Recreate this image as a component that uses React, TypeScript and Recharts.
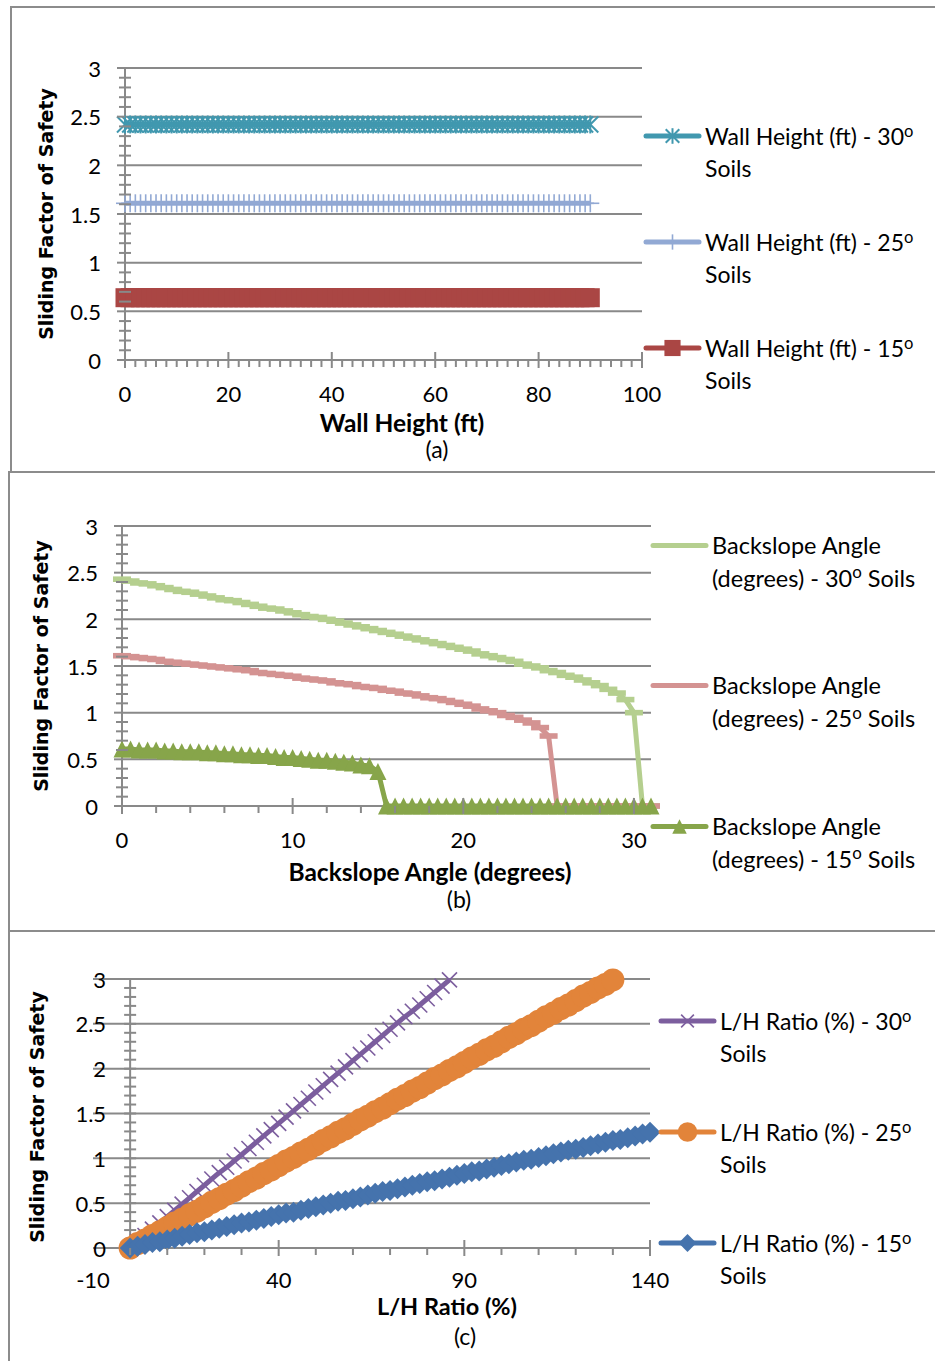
import React from "react";
import { LineChart, Line, XAxis, YAxis, ReferenceLine, ReferenceDot, Legend } from "recharts";

const FONT = "Lato, 'Open Sans', sans-serif";
const TITLE_FONT = "'DejaVu Sans', Verdana, sans-serif";
const AXIS_GRAY = "#898989";
const W = 935;

// shared y axis (Sliding Factor of Safety)
const yTicks = [
  0, 0.1, 0.2, 0.3, 0.4, 0.5, 0.6, 0.7, 0.8, 0.9, 1, 1.1, 1.2, 1.3, 1.4, 1.5,
  1.6, 1.7, 1.8, 1.9, 2, 2.1, 2.2, 2.3, 2.4, 2.5, 2.6, 2.7, 2.8, 2.9, 3,
];
const yMajor = [0, 0.5, 1, 1.5, 2, 2.5, 3];
const yGrid = [0.5, 1, 1.5, 2, 2.5, 3];

// (a) wall height
const wallHeight = [
  0, 1, 2, 3, 4, 5, 6, 7, 8, 9, 10, 11, 12, 13, 14, 15, 16, 17, 18, 19,
  20, 21, 22, 23, 24, 25, 26, 27, 28, 29, 30, 31, 32, 33, 34, 35, 36, 37, 38, 39,
  40, 41, 42, 43, 44, 45, 46, 47, 48, 49, 50, 51, 52, 53, 54, 55, 56, 57, 58, 59,
  60, 61, 62, 63, 64, 65, 66, 67, 68, 69, 70, 71, 72, 73, 74, 75, 76, 77, 78, 79,
  80, 81, 82, 83, 84, 85, 86, 87, 88, 89, 90,
];
const fsWall30 = [
  2.42, 2.42, 2.42, 2.42, 2.42, 2.42, 2.42, 2.42, 2.42, 2.42,
  2.42, 2.42, 2.42, 2.42, 2.42, 2.42, 2.42, 2.42, 2.42, 2.42,
  2.42, 2.42, 2.42, 2.42, 2.42, 2.42, 2.42, 2.42, 2.42, 2.42,
  2.42, 2.42, 2.42, 2.42, 2.42, 2.42, 2.42, 2.42, 2.42, 2.42,
  2.42, 2.42, 2.42, 2.42, 2.42, 2.42, 2.42, 2.42, 2.42, 2.42,
  2.42, 2.42, 2.42, 2.42, 2.42, 2.42, 2.42, 2.42, 2.42, 2.42,
  2.42, 2.42, 2.42, 2.42, 2.42, 2.42, 2.42, 2.42, 2.42, 2.42,
  2.42, 2.42, 2.42, 2.42, 2.42, 2.42, 2.42, 2.42, 2.42, 2.42,
  2.42, 2.42, 2.42, 2.42, 2.42, 2.42, 2.42, 2.42, 2.42, 2.42,
  2.42,
];
const fsWall25 = [
  1.61, 1.61, 1.61, 1.61, 1.61, 1.61, 1.61, 1.61, 1.61, 1.61,
  1.61, 1.61, 1.61, 1.61, 1.61, 1.61, 1.61, 1.61, 1.61, 1.61,
  1.61, 1.61, 1.61, 1.61, 1.61, 1.61, 1.61, 1.61, 1.61, 1.61,
  1.61, 1.61, 1.61, 1.61, 1.61, 1.61, 1.61, 1.61, 1.61, 1.61,
  1.61, 1.61, 1.61, 1.61, 1.61, 1.61, 1.61, 1.61, 1.61, 1.61,
  1.61, 1.61, 1.61, 1.61, 1.61, 1.61, 1.61, 1.61, 1.61, 1.61,
  1.61, 1.61, 1.61, 1.61, 1.61, 1.61, 1.61, 1.61, 1.61, 1.61,
  1.61, 1.61, 1.61, 1.61, 1.61, 1.61, 1.61, 1.61, 1.61, 1.61,
  1.61, 1.61, 1.61, 1.61, 1.61, 1.61, 1.61, 1.61, 1.61, 1.61,
  1.61,
];
const fsWall15 = [
  0.64, 0.64, 0.64, 0.64, 0.64, 0.64, 0.64, 0.64, 0.64, 0.64,
  0.64, 0.64, 0.64, 0.64, 0.64, 0.64, 0.64, 0.64, 0.64, 0.64,
  0.64, 0.64, 0.64, 0.64, 0.64, 0.64, 0.64, 0.64, 0.64, 0.64,
  0.64, 0.64, 0.64, 0.64, 0.64, 0.64, 0.64, 0.64, 0.64, 0.64,
  0.64, 0.64, 0.64, 0.64, 0.64, 0.64, 0.64, 0.64, 0.64, 0.64,
  0.64, 0.64, 0.64, 0.64, 0.64, 0.64, 0.64, 0.64, 0.64, 0.64,
  0.64, 0.64, 0.64, 0.64, 0.64, 0.64, 0.64, 0.64, 0.64, 0.64,
  0.64, 0.64, 0.64, 0.64, 0.64, 0.64, 0.64, 0.64, 0.64, 0.64,
  0.64, 0.64, 0.64, 0.64, 0.64, 0.64, 0.64, 0.64, 0.64, 0.64,
  0.64,
];
const xTicksA = [
  0, 2, 4, 6, 8, 10, 12, 14, 16, 18, 20, 22, 24, 26, 28, 30, 32, 34, 36, 38, 40,
  42, 44, 46, 48, 50, 52, 54, 56, 58, 60, 62, 64, 66, 68, 70, 72, 74, 76, 78, 80,
  82, 84, 86, 88, 90, 92, 94, 96, 98, 100,
];
const xMajorA = [0, 20, 40, 60, 80, 100];

// (b) backslope angle
const backslope = [
  0, 0.5, 1, 1.5, 2, 2.5, 3, 3.5, 4, 4.5,
  5, 5.5, 6, 6.5, 7, 7.5, 8, 8.5, 9, 9.5,
  10, 10.5, 11, 11.5, 12, 12.5, 13, 13.5, 14, 14.5,
  15, 15.5, 16, 16.5, 17, 17.5, 18, 18.5, 19, 19.5,
  20, 20.5, 21, 21.5, 22, 22.5, 23, 23.5, 24, 24.5,
  25, 25.5, 26, 26.5, 27, 27.5, 28, 28.5, 29, 29.5,
  30, 30.5, 31,
];
const fsBack30 = [
  2.43, 2.41, 2.39, 2.38, 2.36, 2.34, 2.32, 2.3, 2.29, 2.27,
  2.25, 2.23, 2.21, 2.2, 2.18, 2.16, 2.14, 2.12, 2.11, 2.09,
  2.07, 2.05, 2.03, 2.02, 2.0, 1.98, 1.96, 1.94, 1.92, 1.9,
  1.88, 1.86, 1.84, 1.82, 1.8, 1.78, 1.76, 1.74, 1.72, 1.7,
  1.68, 1.66, 1.63, 1.61, 1.59, 1.57, 1.55, 1.52, 1.5, 1.48,
  1.45, 1.43, 1.4, 1.38, 1.35, 1.32, 1.29, 1.25, 1.21, 1.14,
  1.0, 0, 0,
];
const fsBack25 = [
  1.61, 1.6, 1.59, 1.58, 1.57, 1.55, 1.54, 1.53, 1.52, 1.51,
  1.5, 1.49, 1.48, 1.47, 1.46, 1.45, 1.43, 1.42, 1.41, 1.4,
  1.39, 1.37, 1.36, 1.35, 1.34, 1.32, 1.31, 1.3, 1.28, 1.27,
  1.26, 1.24, 1.23, 1.21, 1.2, 1.18, 1.16, 1.15, 1.13, 1.11,
  1.09, 1.07, 1.04, 1.02, 1.0, 0.97, 0.95, 0.92, 0.89, 0.84,
  0.75, 0, 0, 0, 0, 0, 0, 0, 0, 0,
  0, 0, 0,
];
const fsBack15 = [
  0.61, 0.61, 0.6, 0.6, 0.6, 0.59, 0.59, 0.58, 0.58, 0.58,
  0.57, 0.57, 0.56, 0.56, 0.55, 0.55, 0.54, 0.54, 0.53, 0.52,
  0.52, 0.51, 0.5, 0.49, 0.49, 0.48, 0.47, 0.46, 0.44, 0.43,
  0.37, 0, 0, 0, 0, 0, 0, 0, 0, 0,
  0, 0, 0, 0, 0, 0, 0, 0, 0, 0,
  0, 0, 0, 0, 0, 0, 0, 0, 0, 0,
  0, 0, 0,
];
const xTicksB = [0, 2, 4, 6, 8, 10, 12, 14, 16, 18, 20, 22, 24, 26, 28, 30];
const xMajorB = [0, 10, 20, 30];

// (c) L/H ratio
const lhRatio = [
  0, 2, 4, 6, 8, 10, 12, 14, 16, 18,
  20, 22, 24, 26, 28, 30, 32, 34, 36, 38,
  40, 42, 44, 46, 48, 50, 52, 54, 56, 58,
  60, 62, 64, 66, 68, 70, 72, 74, 76, 78,
  80, 82, 84, 86, 88, 90, 92, 94, 96, 98,
  100, 102, 104, 106, 108, 110, 112, 114, 116, 118,
  120, 122, 124, 126, 128, 130, 132, 134, 136, 138,
  140,
];
const fsLH30 = [
  0, 0.07, 0.14, 0.21, 0.28, 0.35, 0.42, 0.49, 0.56, 0.63,
  0.7, 0.77, 0.84, 0.9, 0.97, 1.04, 1.11, 1.18, 1.25, 1.32,
  1.39, 1.46, 1.53, 1.6, 1.67, 1.74, 1.81, 1.88, 1.95, 2.02,
  2.09, 2.16, 2.23, 2.3, 2.37, 2.44, 2.51, 2.58, 2.64, 2.71,
  2.78, 2.85, 2.92, 2.99,
];
const fsLH25 = [
  0, 0.05, 0.09, 0.14, 0.18, 0.23, 0.28, 0.32, 0.37, 0.41,
  0.46, 0.51, 0.55, 0.6, 0.64, 0.69, 0.74, 0.78, 0.83, 0.87,
  0.92, 0.97, 1.01, 1.06, 1.1, 1.15, 1.2, 1.24, 1.29, 1.33,
  1.38, 1.43, 1.47, 1.52, 1.56, 1.61, 1.66, 1.7, 1.75, 1.79,
  1.84, 1.89, 1.93, 1.98, 2.02, 2.07, 2.12, 2.16, 2.21, 2.25,
  2.3, 2.35, 2.39, 2.44, 2.48, 2.53, 2.58, 2.62, 2.67, 2.71,
  2.76, 2.81, 2.85, 2.9, 2.94, 2.99,
];
const fsLH15 = [
  0, 0.02, 0.04, 0.06, 0.07, 0.09, 0.11, 0.13, 0.15, 0.17,
  0.18, 0.2, 0.22, 0.24, 0.26, 0.28, 0.29, 0.31, 0.33, 0.35,
  0.37, 0.39, 0.4, 0.42, 0.44, 0.46, 0.48, 0.5, 0.52, 0.53,
  0.55, 0.57, 0.59, 0.61, 0.63, 0.64, 0.66, 0.68, 0.7, 0.72,
  0.74, 0.75, 0.77, 0.79, 0.81, 0.83, 0.85, 0.86, 0.88, 0.9,
  0.92, 0.94, 0.96, 0.98, 0.99, 1.01, 1.03, 1.05, 1.07, 1.09,
  1.1, 1.12, 1.14, 1.16, 1.18, 1.2, 1.21, 1.23, 1.25, 1.27,
  1.29,
];
const xTicksC = [-10, 0, 10, 20, 30, 40, 50, 60, 70, 80, 90, 100, 110, 120, 130, 140];
const xMajorC = [-10, 40, 90, 140];

type MarkerKind = "star" | "plus" | "square" | "dash" | "triangle" | "cross" | "circle" | "diamond";

interface SeriesDef {
  lines: string[];
  color: string;
  marker: MarkerKind;
  xs: number[];
  ys: number[];
}

const seriesA: SeriesDef[] = [
  { lines: ["Wall Height (ft) - 30^o", "Soils"], color: "#4198AF", marker: "star", xs: wallHeight, ys: fsWall30 },
  { lines: ["Wall Height (ft) - 25^o", "Soils"], color: "#92A9D4", marker: "plus", xs: wallHeight, ys: fsWall25 },
  { lines: ["Wall Height (ft) - 15^o", "Soils"], color: "#AA4644", marker: "square", xs: wallHeight, ys: fsWall15 },
];
const seriesB: SeriesDef[] = [
  { lines: ["Backslope Angle", "(degrees) - 30^o Soils"], color: "#B5CF8F", marker: "dash", xs: backslope, ys: fsBack30 },
  { lines: ["Backslope Angle", "(degrees) - 25^o Soils"], color: "#D49392", marker: "dash", xs: backslope, ys: fsBack25 },
  { lines: ["Backslope Angle", "(degrees) - 15^o Soils"], color: "#87A54A", marker: "triangle", xs: backslope, ys: fsBack15 },
];
const seriesC: SeriesDef[] = [
  { lines: ["L/H Ratio (%) - 30^o", "Soils"], color: "#7C5E9E", marker: "cross", xs: lhRatio, ys: fsLH30 },
  { lines: ["L/H Ratio (%) - 25^o", "Soils"], color: "#E2843A", marker: "circle", xs: lhRatio, ys: fsLH25 },
  { lines: ["L/H Ratio (%) - 15^o", "Soils"], color: "#4573AD", marker: "diamond", xs: lhRatio, ys: fsLH15 },
];

function Marker({ kind, cx, cy, color, k = 1 }: { kind: MarkerKind; cx?: number; cy?: number; color: string; k?: number }) {
  if (cx == null || cy == null) return null;
  switch (kind) {
    case "star": {
      const a = 8 * k;
      return (
        <g stroke={color} strokeWidth={2}>
          <line x1={cx} y1={cy - a - 1} x2={cx} y2={cy + a + 1} />
          <line x1={cx - a} y1={cy - a} x2={cx + a} y2={cy + a} />
          <line x1={cx - a} y1={cy + a} x2={cx + a} y2={cy - a} />
        </g>
      );
    }
    case "plus": {
      const a = 9 * k;
      return (
        <g stroke={color} strokeWidth={1.6}>
          <line x1={cx} y1={cy - a} x2={cx} y2={cy + a} />
          <line x1={cx - a} y1={cy} x2={cx + a} y2={cy} />
        </g>
      );
    }
    case "square": {
      const a = 9.5 * k;
      return <rect x={cx - a} y={cy - a} width={2 * a} height={2 * a} fill={color} />;
    }
    case "dash": {
      const w = 9 * k;
      const h = 2.8 * k;
      return <rect x={cx - w} y={cy - h} width={2 * w} height={2 * h} fill={color} />;
    }
    case "triangle": {
      const a = 8.5 * k;
      return <polygon points={`${cx},${cy - a} ${cx + a},${cy + a} ${cx - a},${cy + a}`} fill={color} />;
    }
    case "cross": {
      const a = 7.5 * k;
      return (
        <g stroke={color} strokeWidth={1.6}>
          <line x1={cx - a} y1={cy - a} x2={cx + a} y2={cy + a} />
          <line x1={cx - a} y1={cy + a} x2={cx + a} y2={cy - a} />
        </g>
      );
    }
    case "circle":
      return <circle cx={cx} cy={cy} r={11.5 * k} fill={color} />;
    case "diamond": {
      const a = 10.5 * k;
      return <polygon points={`${cx},${cy - a} ${cx + a},${cy} ${cx},${cy + a} ${cx - a},${cy}`} fill={color} />;
    }
  }
  return null;
}

function withSup(text: string) {
  const [before, after] = text.split("^o");
  if (after === undefined) return text;
  return (
    <>
      {before}
      <span style={{ fontSize: "0.72em", lineHeight: 0, position: "relative", top: "-0.5em" }}>o</span>
      {after}
    </>
  );
}

function LeftYTick(props: any) {
  const { x, y, payload } = props;
  const v = payload.value;
  const major = yMajor.includes(v);
  return (
    <g>
      {major ? (
        <line x1={x - 8} y1={y} x2={x} y2={y} stroke={AXIS_GRAY} strokeWidth={2} />
      ) : (
        <line x1={x - 6} y1={y} x2={x + 6} y2={y} stroke={AXIS_GRAY} strokeWidth={2} />
      )}
      {major && (
        <text x={x - 24} y={y} textAnchor="end" dominantBaseline="central" fontFamily={FONT} fontSize={22} fill="#000">
          {v}
        </text>
      )}
    </g>
  );
}

function ZeroYTick({ cx, cy, v }: { cx?: number; cy?: number; v: number }) {
  if (cx == null || cy == null) return null;
  const major = yMajor.includes(v);
  return (
    <g>
      <line x1={cx - 6} y1={cy} x2={cx + 6} y2={cy} stroke={AXIS_GRAY} strokeWidth={2} />
      {major && (
        <text x={cx - 24} y={cy} textAnchor="end" dominantBaseline="central" fontFamily={FONT} fontSize={22} fill="#000">
          {v}
        </text>
      )}
    </g>
  );
}

const makeXTick = (major: number[], bare: number[], labelDy: number) => (p: any) => {
  const v = p.payload.value;
  const isMajor = major.includes(v);
  return (
    <g>
      {isMajor ? (
        !bare.includes(v) && <line x1={p.x} y1={p.y - 8} x2={p.x} y2={p.y + 8} stroke={AXIS_GRAY} strokeWidth={2} />
      ) : (
        <line x1={p.x} y1={p.y} x2={p.x} y2={p.y + 7} stroke={AXIS_GRAY} strokeWidth={2} />
      )}
      {isMajor && (
        <text x={p.x} y={p.y + labelDy} textAnchor="middle" dominantBaseline="central" fontFamily={FONT} fontSize={22} fill="#000">
          {v}
        </text>
      )}
    </g>
  );
};

interface LegendCfg {
  left: number;
  top: number;
  step: number;
  lineHeight: number;
  fontSize: number;
}

function LegendBox({ series, cfg }: { series: SeriesDef[]; cfg: LegendCfg }) {
  return (
    <div
      style={{
        position: "relative",
        width: 290,
        height: cfg.step * 2 + cfg.lineHeight * 2,
        fontFamily: FONT,
        fontSize: cfg.fontSize,
        color: "#000",
      }}
    >
      {series.map((s, i) => (
        <div key={i} style={{ position: "absolute", left: 0, top: i * cfg.step, display: "flex" }}>
          <svg width={62} height={cfg.lineHeight} style={{ flex: "none" }}>
            <line x1={3} y1={cfg.lineHeight / 2} x2={56} y2={cfg.lineHeight / 2} stroke={s.color} strokeWidth={5} strokeLinecap="round" />
            <Marker kind={s.marker} cx={29.5} cy={cfg.lineHeight / 2} color={s.color} k={0.85} />
          </svg>
          <div style={{ lineHeight: `${cfg.lineHeight}px`, whiteSpace: "nowrap" }}>
            {s.lines.map((l, j) => (
              <div key={j} style={{ height: cfg.lineHeight }}>
                {withSup(l)}
              </div>
            ))}
          </div>
        </div>
      ))}
    </div>
  );
}

interface PanelProps {
  top: number;
  height: number;
  margin: { top: number; right: number; bottom: number; left: number };
  xDomain: [number, number];
  xTicks: number[];
  xMajor: number[];
  xBare?: number[];
  labelDy?: number;
  yAtZero?: boolean;
  series: SeriesDef[];
  legend: LegendCfg;
}

function PanelChart({ top, height, margin, xDomain, xTicks, xMajor, xBare = [], labelDy = 33, yAtZero, series, legend }: PanelProps) {
  const axisLine = { stroke: AXIS_GRAY, strokeWidth: 2 };
  return (
    <div style={{ position: "absolute", left: 0, top, width: W, height }}>
      <LineChart width={W} height={height} margin={margin}>
        <XAxis
          type="number"
          dataKey="x"
          domain={xDomain}
          ticks={xTicks}
          interval={0}
          height={40}
          tickSize={0}
          tickMargin={0}
          tickLine={false}
          axisLine={axisLine}
          tick={makeXTick(xMajor, xBare, labelDy)}
        />
        {yAtZero ? (
          <YAxis hide type="number" domain={[0, 3]} ticks={yTicks} />
        ) : (
          <YAxis
            type="number"
            domain={[0, 3]}
            ticks={yTicks}
            interval={0}
            width={100}
            tickSize={0}
            tickMargin={0}
            tickLine={false}
            axisLine={axisLine}
            tick={LeftYTick}
          />
        )}
        {yGrid.map((v) => (
          <ReferenceLine key={`g${v}`} y={v} stroke={AXIS_GRAY} strokeWidth={2} />
        ))}
        {yAtZero && <ReferenceLine x={0} stroke={AXIS_GRAY} strokeWidth={2} />}
        {yAtZero &&
          yTicks.map((v) => (
            <ReferenceDot key={`t${v}`} x={0} y={v} r={0} shape={(p: any) => <ZeroYTick cx={p.cx} cy={p.cy} v={v} />} />
          ))}
        {series.map((s, si) => (
          <Line
            key={si}
            data={s.ys.map((y, i) => ({ x: s.xs[i], y }))}
            dataKey="y"
            type="linear"
            stroke={s.color}
            strokeWidth={5}
            strokeLinejoin="round"
            dot={(p: any) => <Marker key={`m${si}-${p.index}`} kind={s.marker} cx={p.cx} cy={p.cy} color={s.color} />}
            activeDot={false}
            isAnimationActive={false}
          />
        ))}
        <Legend
          layout="vertical"
          align="center"
          verticalAlign="middle"
          wrapperStyle={{ left: legend.left, top: legend.top, width: 290 }}
          content={() => <LegendBox series={series} cfg={legend} />}
        />
      </LineChart>
    </div>
  );
}

const frameStyle = (left: number, top: number, height: number): React.CSSProperties => ({
  position: "absolute",
  left,
  top,
  width: W + 10,
  height,
  boxSizing: "border-box",
  border: "2px solid #8c8c8c",
});

function YTitle({ cx, cy }: { cx: number; cy: number }) {
  return (
    <div
      style={{
        position: "absolute",
        left: cx,
        top: cy,
        transform: "translate(-50%, -50%) rotate(-90deg)",
        whiteSpace: "nowrap",
        fontFamily: TITLE_FONT,
        fontWeight: 700,
        fontSize: 19,
        lineHeight: 1,
        color: "#000",
      }}
    >
      Sliding Factor of Safety
    </div>
  );
}

function CenterText({ cx, cy, bold, size, children }: { cx: number; cy: number; bold?: boolean; size: number; children: React.ReactNode }) {
  return (
    <div
      style={{
        position: "absolute",
        left: cx,
        top: cy,
        transform: "translate(-50%, -50%)",
        whiteSpace: "nowrap",
        fontFamily: FONT,
        fontWeight: bold ? 700 : 400,
        fontSize: size,
        lineHeight: 1,
        color: "#000",
      }}
    >
      {children}
    </div>
  );
}

export default function App() {
  return (
    <div style={{ position: "absolute", left: 0, top: 0, width: W, height: 1361, overflow: "hidden", background: "#fff" }}>
      <div style={frameStyle(10, 6, 467)} />
      <div style={frameStyle(8, 471, 461)} />
      <div style={frameStyle(8, 930, 445)} />

      <PanelChart
        top={0}
        height={470}
        margin={{ top: 68, right: 293, bottom: 70, left: 25 }}
        xDomain={[0, 100]}
        xTicks={xTicksA}
        xMajor={xMajorA}
        series={seriesA}
        legend={{ left: 643, top: 120, step: 106, lineHeight: 32, fontSize: 23 }}
      />
      <PanelChart
        top={470}
        height={460}
        margin={{ top: 56, right: 284, bottom: 84, left: 22 }}
        xDomain={[0, 31]}
        xTicks={xTicksB}
        xMajor={xMajorB}
        series={seriesB}
        legend={{ left: 650, top: 58.5, step: 140.5, lineHeight: 33, fontSize: 23.5 }}
      />
      <PanelChart
        top={930}
        height={431}
        margin={{ top: 49, right: 285, bottom: 73, left: 93 }}
        xDomain={[-10, 140]}
        xTicks={xTicksC}
        xMajor={xMajorC}
        xBare={[-10]}
        labelDy={31}
        yAtZero
        series={seriesC}
        legend={{ left: 658, top: 75, step: 111, lineHeight: 32, fontSize: 23 }}
      />

      <YTitle cx={46} cy={214} />
      <YTitle cx={41} cy={666} />
      <YTitle cx={37} cy={1117} />
      <CenterText cx={402} cy={423} bold size={24.5}>Wall Height (ft)</CenterText>
      <CenterText cx={430} cy={872} bold size={24.5}>Backslope Angle (degrees)</CenterText>
      <CenterText cx={447} cy={1307} bold size={23.5}>L/H Ratio (%)</CenterText>
      <CenterText cx={437} cy={449} size={23}>(a)</CenterText>
      <CenterText cx={459} cy={899} size={23}>(b)</CenterText>
      <CenterText cx={465} cy={1336} size={23}>(c)</CenterText>
    </div>
  );
}
